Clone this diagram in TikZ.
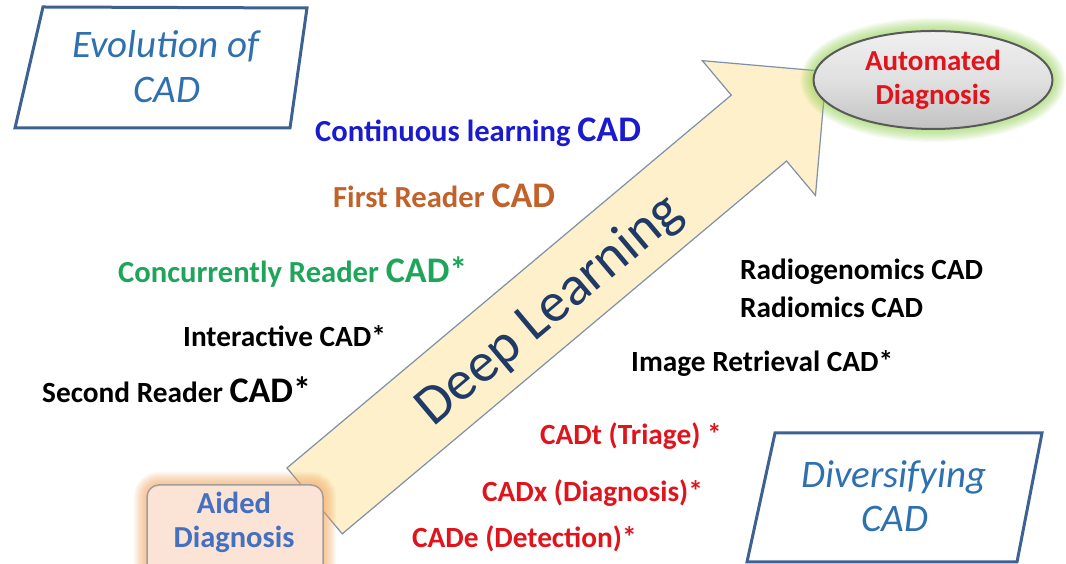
\documentclass[tikz,border=0pt]{standalone}
\usepackage{fontspec}
\setmainfont{Carlito}
\usetikzlibrary{shapes.geometric}
\definecolor{cblue}{HTML}{1A1ACF}
\definecolor{corange}{HTML}{C0622A}
\definecolor{cgreen}{HTML}{1FA55A}
\definecolor{cred}{HTML}{E0141C}
\definecolor{pline}{HTML}{3E6193}
\definecolor{ptext}{HTML}{2E70B0}
\definecolor{arrowfill}{HTML}{FDF0CB}
\definecolor{arrowline}{HTML}{7F90A8}
\definecolor{dlnavy}{HTML}{1F3A66}
\definecolor{glowgreen}{HTML}{8FD24A}
\definecolor{gloworange}{HTML}{F7A255}
\definecolor{aidfill}{HTML}{FBE3D5}
\definecolor{aidtext}{HTML}{4470C0}
\newcommand\BigCAD[1]{{\fontsize{36}{36}\selectfont #1}}
\tikzset{
  lbl/.style={inner sep=0pt, anchor=base west, font=\bfseries\fontsize{29.3}{34}\selectfont},
  clbl/.style={inner sep=0pt, anchor=base west, font=\bfseries\fontsize{30.6}{34}\selectfont},
  para/.style={draw=pline, line width=3pt, fill=white},
  ptxt/.style={inner sep=0pt, anchor=base, text=ptext, font=\itshape\fontsize{39}{44}\selectfont},
}
\begin{document}
\begin{tikzpicture}[x=1pt,y=1pt]
\useasboundingbox (0,0) rectangle (1066,564);
\clip (0,0) rectangle (1066,564);
\fill[white] (0,0) rectangle (1066,564);

% big arrow
\begin{scope}[shift={(314.6,63.1)}, rotate=40]
  \draw[fill=arrowfill, draw=arrowline, line width=1.2pt, line join=miter]
    (0,43) -- (580,43) -- (580,88) -- (668,0) -- (580,-88) -- (580,-43) -- (0,-43) -- cycle;
  \node[rotate=40, inner sep=0pt, text=dlnavy, font=\fontsize{56}{60}\selectfont] (dl) at (302,-6) {Deep Learning};
\end{scope}

% automated diagnosis
\foreach \i in {1,...,10}
  \draw[glowgreen, line width=\i*2.6pt, opacity=0.08] (933,484) ellipse [x radius=119.5, y radius=49];
\node[ellipse, minimum width=239pt, minimum height=98pt, inner sep=0pt, draw=gray!70!black, line width=2pt,
      top color=gray!12, bottom color=gray!48, middle color=gray!24] (auto) at (933,484) {};
\node[align=center, inner sep=0pt, text=cred, font=\bfseries\fontsize{29}{34}\selectfont] (autot) at (933,484) {Automated\\Diagnosis};

% aided diagnosis
\foreach \i in {1,...,10}
  \draw[gloworange, line width=\i*2.6pt, opacity=0.08, rounded corners=12pt] (147,79) rectangle (323,-20);
\draw[fill=aidfill, draw=gray!75, line width=1.5pt, rounded corners=12pt] (147,79) rectangle (323,-20);
\node[align=center, inner sep=0pt, text=aidtext, font=\bfseries\fontsize{30.5}{34}\selectfont] (aid) at (234,41.5) {Aided\\Diagnosis};

% parallelograms
\draw[para] (43,557) -- (307,556) -- (290,436) -- (15,436) -- cycle;
\node[ptxt] (evo1) at (166,506) {Evolution of};
\node[ptxt] (evo2) at (167,461) {CAD};
\draw[para] (775,131) -- (1042,131) -- (1017,2) -- (747,2) -- cycle;
\node[ptxt] (div1) at (894,76) {Diversifying};
\node[ptxt] (div2) at (895,32) {CAD};

% labels
\node[clbl, text=cblue] (cl) at (315,422) {Continuous learning \BigCAD{CAD}};
\node[clbl, text=corange] (fr) at (333,356) {First Reader \BigCAD{CAD}};
\node[clbl, text=cgreen] (cr) at (118,281) {Concurrently Reader \BigCAD{CAD*}};
\node[lbl] (ia) at (183,217) {Interactive CAD*};
\node[lbl] (sr) at (42,161) {Second Reader \BigCAD{CAD*}};
\node[lbl] (rg) at (740,284) {Radiogenomics CAD};
\node[lbl] (rm) at (740,246) {Radiomics CAD};
\node[lbl] (ir) at (631,192) {Image Retrieval CAD*};
\node[lbl, text=cred] (ct) at (540,119) {CADt (Triage) *};
\node[lbl, text=cred] (cx) at (482,62) {CADx (Diagnosis)*};
\node[lbl, text=cred] (ce) at (412,16) {CADe (Detection)*};
\end{tikzpicture}
\end{document}
